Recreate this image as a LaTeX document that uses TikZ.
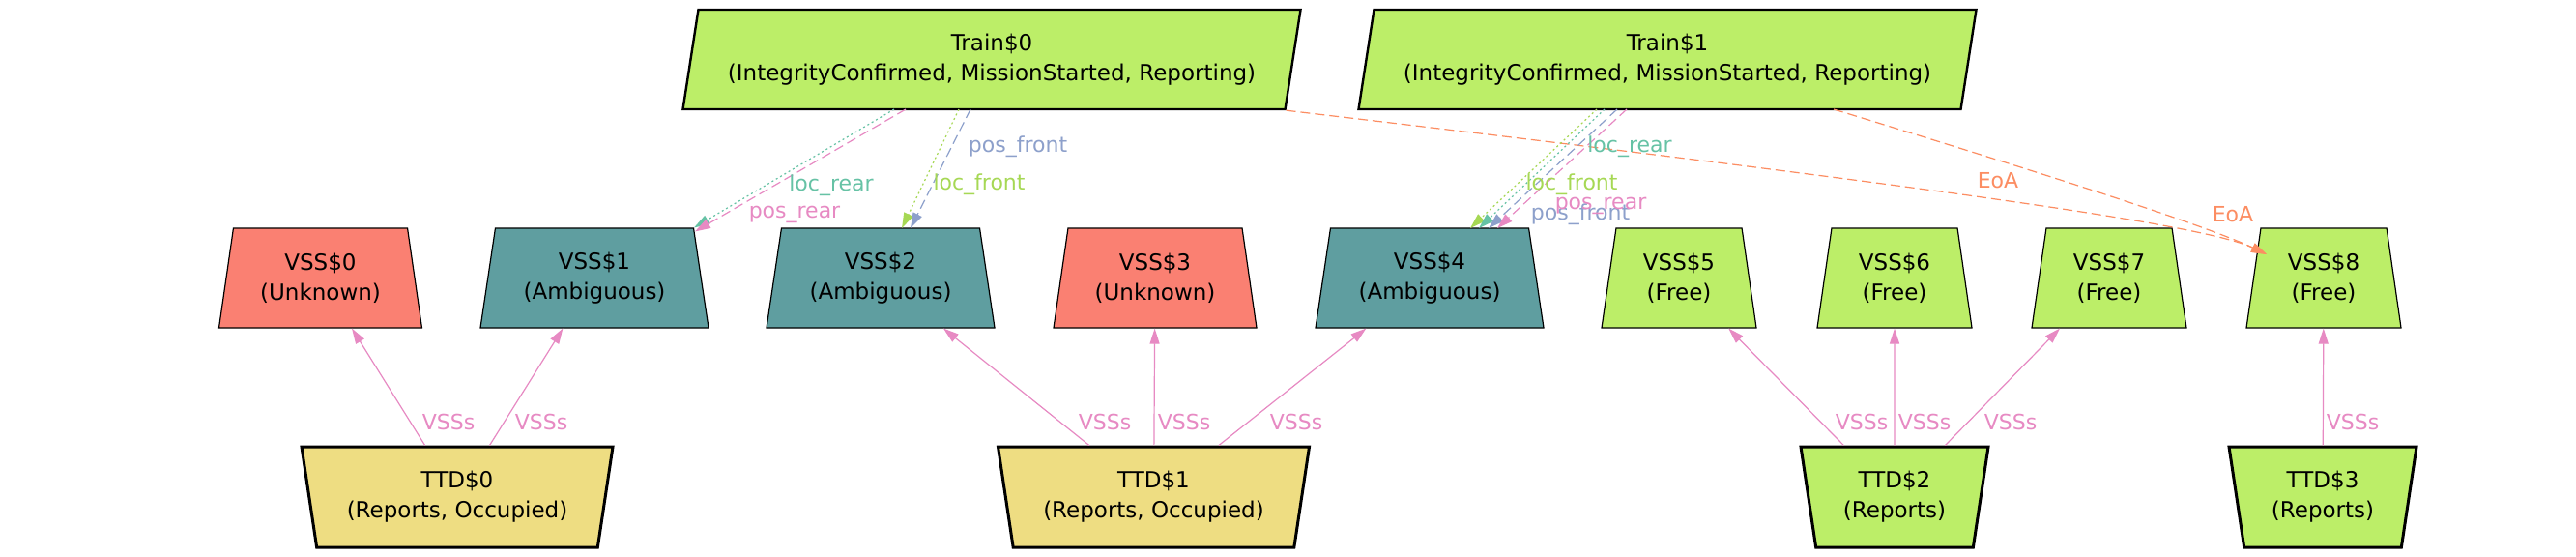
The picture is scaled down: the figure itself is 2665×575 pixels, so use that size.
\documentclass[tikz,border=0pt]{standalone}
\usepackage{fontspec}
\setmainfont{DejaVu Sans}
\usetikzlibrary{arrows.meta,shapes.geometric,calc}
\definecolor{leafgreen}{HTML}{BCEE68}
\definecolor{salmonred}{HTML}{FA8072}
\definecolor{cadet}{HTML}{5F9EA0}
\definecolor{goldrod}{HTML}{EEDD82}
\definecolor{seagreen}{HTML}{66C2A5}
\definecolor{coral}{HTML}{FC8D62}
\definecolor{periwinkle}{HTML}{8DA0CB}
\definecolor{orchid}{HTML}{E78AC3}
\definecolor{limegreen}{HTML}{A6D854}
\newcommand{\boxfont}{\fontsize{11.5}{15.5}\selectfont}
\newcommand{\edgefont}{\fontsize{11}{13}\selectfont}

\begin{document}
\begin{tikzpicture}[x=0.5pt, y=-0.5pt,
    every node/.style={font=\boxfont, align=center},
    train/.style={trapezium, trapezium left angle=73.3, trapezium right angle=106.7,
        trapezium stretches body, minimum height=51.5pt, minimum width=319.5pt,
        draw, line width=1.2pt, fill=leafgreen, inner sep=0pt},
    vss/.style={trapezium, trapezium angle=73.8, trapezium stretches body,
        minimum height=51.5pt, draw, line width=0.6pt, inner sep=0pt},
    unknown/.style={vss, fill=salmonred, minimum width=105pt},
    ambiguous/.style={vss, fill=cadet, minimum width=118pt},
    free/.style={vss, fill=leafgreen, minimum width=80pt},
    ttd/.style={trapezium, trapezium angle=73.6, shape border rotate=180,
        trapezium stretches body, minimum height=52pt, draw, line width=1.5pt, inner sep=0pt},
    occupied/.style={ttd, fill=goldrod, minimum width=161pt},
    reports/.style={ttd, fill=leafgreen, minimum width=97pt},
    lbl/.style={font=\edgefont, inner sep=0pt},
    link/.style={-{Triangle[length=8pt, width=5pt]}, line width=0.6pt},
    dotline/.style={dash pattern=on 1pt off 1.5pt},
    dashline/.style={dash pattern=on 5pt off 2.5pt}]

    \fill[white] (0,0) rectangle (2665,575);
    \useasboundingbox (0,0) rectangle (2665,575);

    % Trains
    \node[train] (train0) at (1026,61.5) {Train\$0\\(IntegrityConfirmed, MissionStarted, Reporting)};
    \node[train] (train1) at (1725,61.5) {Train\$1\\(IntegrityConfirmed, MissionStarted, Reporting)};

    % Virtual sub-sections
    \foreach \i/\x/\st/\txt in {0/331.5/unknown/Unknown, 1/615/ambiguous/Ambiguous,
        2/911/ambiguous/Ambiguous, 3/1195/unknown/Unknown, 4/1479/ambiguous/Ambiguous,
        5/1737/free/Free, 6/1960/free/Free, 7/2182/free/Free, 8/2404/free/Free} {
        \node[\st] (vss\i) at (\x,287.5) {VSS\$\i\\(\txt)};
    }

    % Track detection sections
    \node[occupied] (ttd0) at (473,514) {TTD\$0\\(Reports, Occupied)};
    \node[occupied] (ttd1) at (1193.5,514) {TTD\$1\\(Reports, Occupied)};
    \node[reports] (ttd2) at (1960,514) {TTD\$2\\(Reports)};
    \node[reports] (ttd3) at (2403,514) {TTD\$3\\(Reports)};

    % TTD -> VSS
    \foreach \t/\v in {0/0, 0/1, 1/2, 1/3, 1/4, 2/5, 2/6, 2/7, 3/8} {
        \draw[link, orchid] (ttd\t) -- (vss\v);
    }
    \foreach \x in {464, 560, 1143, 1225, 1341, 1926, 1991, 2080, 2434} {
        \node[lbl, orchid] (vsss\x) at (\x,436) {VSSs};
    }

    % Train$0 -> VSS
    \draw[link, seagreen, dotline] ($(train0.center)+(-101,51.5)$) -- (vss1.top right corner);
    \draw[link, orchid, dashline] ($(train0.center)+(-89,51.5)$) -- ($(vss1.top right corner)+(1,4)$);
    \draw[link, limegreen, dotline] ($(train0.center)+(-34,51.5)$) -- ($(vss2.center)+(22,-51.5)$);
    \draw[link, periwinkle, dashline] ($(train0.center)+(-22,51.5)$) -- ($(vss2.center)+(31,-51.5)$);
    \draw[link, coral, dashline] (train0.bottom right corner) .. controls (2000,193) and (2280,232) .. ($(vss8.center)+(-59,-24.5)$);

    % Train$1 -> VSS
    \draw[link, limegreen, dotline] ($(train1.center)+(-73,51.5)$) -- ($(vss4.center)+(42,-51.5)$);
    \draw[link, seagreen, dotline] ($(train1.center)+(-65,51.5)$) -- ($(vss4.center)+(51,-51.5)$);
    \draw[link, periwinkle, dashline] ($(train1.center)+(-52,51.5)$) -- ($(vss4.center)+(61,-51.5)$);
    \draw[link, orchid, dashline] ($(train1.center)+(-42,51.5)$) -- ($(vss4.center)+(70,-51.5)$);
    \draw[link, coral, dashline] ($(train1.center)+(172,51.5)$) .. controls (2100,175) and (2280,232) .. ($(vss8.center)+(-59,-24.5)$);

    % Labels
    \node[lbl, seagreen] (lrear0) at (860,192) {loc\_rear};
    \node[lbl, orchid] (prear0) at (822,222) {pos\_rear};
    \node[lbl, periwinkle] (pfront0) at (1053,152) {pos\_front};
    \node[lbl, limegreen] (lfront0) at (1013,191) {loc\_front};
    \node[lbl, seagreen] (lrear1) at (1686,152) {loc\_rear};
    \node[lbl, limegreen] (lfront1) at (1626,191) {loc\_front};
    \node[lbl, periwinkle] (pfront1) at (1635,222) {pos\_front};
    \node[lbl, orchid] (prear1) at (1656,213) {pos\_rear};
    \node[lbl, coral] (eoa0) at (2067,187) {EoA};
    \node[lbl, coral] (eoa1) at (2310,222) {EoA};

\end{tikzpicture}
\end{document}
